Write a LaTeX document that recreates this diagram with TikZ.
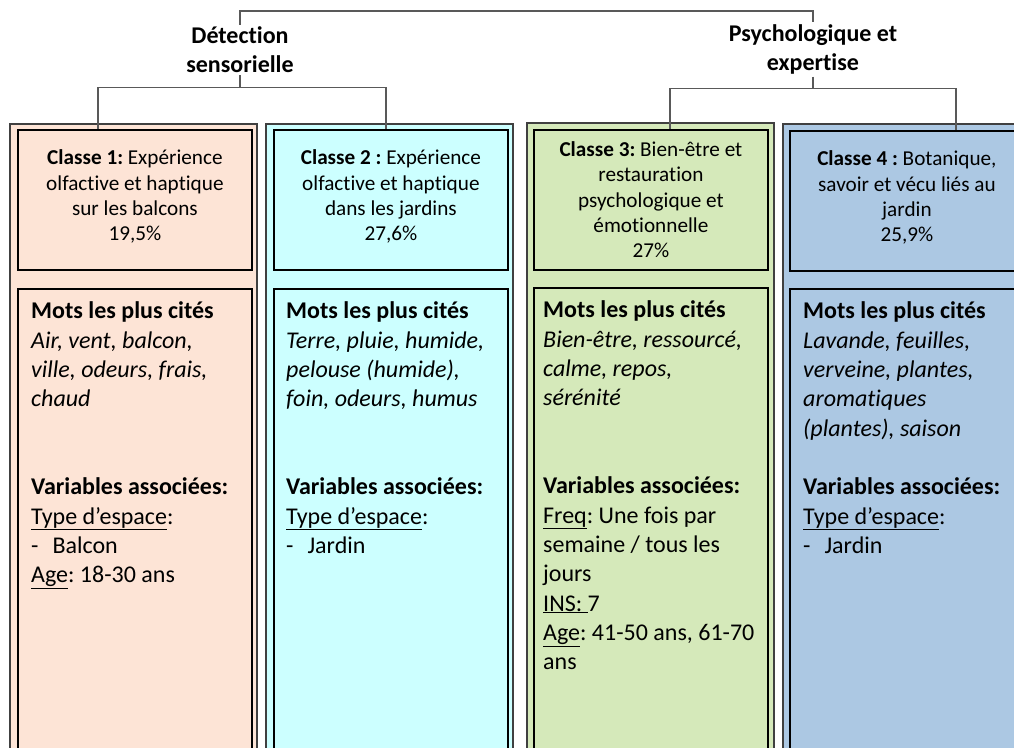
\documentclass[tikz,border=0pt]{standalone}
\usepackage{fontspec}
\setmainfont{Carlito}[Ligatures=NoCommon]
\usetikzlibrary{positioning}

\definecolor{peach}{HTML}{FDE4D6}
\definecolor{aqua}{HTML}{CCFFFF}
\definecolor{leaf}{HTML}{D5E9BA}
\definecolor{sky}{HTML}{ACC8E3}

\frenchspacing

\begin{document}
\begin{tikzpicture}[
x=1pt,y=-1pt,
colbox/.style={
  draw=black!75,
  line width=1.6pt,
  anchor=north west,
  minimum width=247pt,
  minimum height=640pt,
  inner sep=0pt
},
headbox/.style={
  draw,
  line width=1.8pt,
  minimum width=234pt,
  minimum height=140pt,
  inner sep=0pt,
  align=center,
  font=\fontsize{21.2}{25.3}\selectfont
},
raised/.style={
  text depth=9pt
},
wordbox/.style={
  draw,
  line width=1.8pt,
  minimum width=234pt,
  minimum height=470pt,
  inner sep=0pt
},
body/.style={
  inner sep=0pt,
  align=left,
  font=\fontsize{24}{29.3}\selectfont
},
title/.style={
  inner sep=2pt,
  align=center,
  font=\fontsize{24}{29.3}\selectfont\bfseries
},
tree/.style={
  draw=black!65,
  line width=1.3pt
}
]
\useasboundingbox (0,0) rectangle (1014,747);
\clip (0,0) rectangle (1014,747);

\node[colbox,fill=peach] (c1) at (9,123) {};
\node[colbox,fill=aqua] (c2) at (265,123) {};
\node[colbox,fill=leaf] (c3) at (526,122) {};
\node[colbox,fill=sky] (c4) at (782,123) {};

\node[headbox,raised,below right=6pt and 8pt of c1.north west] (h1)
  {\textbf{Classe 1:} Expérience\\olfactive et haptique\\sur les balcons\\19,5\%};
\node[headbox,raised,below right=6pt and 8pt of c2.north west] (h2)
  {\textbf{Classe 2 :} Expérience\\olfactive et haptique\\dans les jardins\\27,6\%};
\node[headbox,below right=7pt and 7pt of c3.north west] (h3)
  {\textbf{Classe 3:} Bien-être et\\restauration\\psychologique et\\émotionnelle\\27\%};
\node[headbox,raised,below right=7pt and 7pt of c4.north west] (h4)
  {\textbf{Classe 4 :} Botanique,\\savoir et vécu liés au\\jardin\\25,9\%};

\node[wordbox,below=17pt of h1] (m1) {};
\node[wordbox,below=17pt of h2] (m2) {};
\node[wordbox,below=16pt of h3] (m3) {};
\node[wordbox,below=16pt of h4] (m4) {};

\node[body,below right=14pt and 14pt of m1.north west] (k1)
  {\textbf{Mots les plus cités}\\\textit{Air, vent, balcon,}\\\textit{ville, odeurs, frais,}\\\textit{chaud}};
\node[body,below right=14pt and 13pt of m2.north west] (k2)
  {\textbf{Mots les plus cités}\\\textit{Terre, pluie, humide,}\\\textit{pelouse (humide),}\\\textit{foin, odeurs, humus}};
\node[body,below right=14pt and 10pt of m3.north west] (k3)
  {\textbf{Mots les plus cités}\\\textit{Bien-être, ressourcé,}\\\textit{calme, repos,}\\\textit{sérénité}};
\node[body,below right=14pt and 14pt of m4.north west] (k4)
  {\textbf{Mots les plus cités}\\\textit{Lavande, feuilles,}\\\textit{verveine, plantes,}\\\textit{aromatiques}\\\textit{(plantes), saison}};

\node[body,below right=190pt and 14pt of m1.north west] (v1)
  {\textbf{Variables associées:}\\\underline{Type d’espace}:\\-\hspace{14pt}Balcon\\\underline{Age}: 18-30 ans};
\node[body,below right=190pt and 13pt of m2.north west] (v2)
  {\textbf{Variables associées:}\\\underline{Type d’espace}:\\-\hspace{14pt}Jardin};
\node[body,below right=190pt and 10pt of m3.north west] (v3)
  {\textbf{Variables associées:}\\\underline{Freq}: Une fois par\\semaine / tous les\\jours\\\underline{INS:~}7\\\underline{Age}: 41-50 ans, 61-70\\ans};
\node[body,below right=190pt and 14pt of m4.north west] (v4)
  {\textbf{Variables associées:}\\\underline{Type d’espace}:\\-\hspace{14pt}Jardin};

\node[title] (det) at (240,50) {Détection\\sensorielle};
\node[title] (psy) at (813,49.5) {Psychologique et\\expertise};

\coordinate (apex) at (526,11);
\coordinate[below=12pt of det.south] (detfork);
\coordinate[below=12pt of psy.south] (psyfork);

\draw[tree] (det.north) |- (apex) -| (psy.north);
\draw[tree] (det.south) -- (detfork);
\draw[tree] (psy.south) -- (psyfork);
\draw[tree] ([xshift=-37pt]h1.north) |- (detfork) -| ([xshift=-5pt]h2.north);
\draw[tree] ([xshift=19pt]h3.north) |- (psyfork) -| ([xshift=49pt]h4.north);
\end{tikzpicture}
\end{document}
